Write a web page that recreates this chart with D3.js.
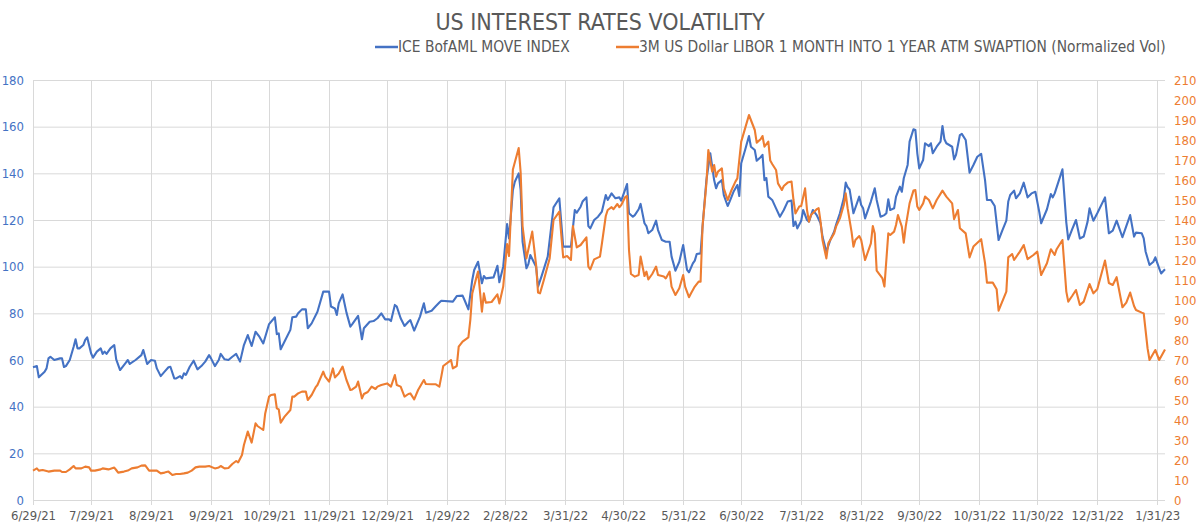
<!DOCTYPE html>
<html>
<head>
<meta charset="utf-8">
<script src="https://cdn.jsdelivr.net/npm/d3@7"></script>
<style>
  body { margin: 0; background: #fff; }
  svg text { font-family: "Liberation Sans Narrow", "DejaVu Sans Condensed", "Roboto", sans-serif; }
</style>
</head>
<body>
<svg id="chart" width="1200" height="528"></svg>
<script>
const title = 'US INTEREST RATES VOLATILITY';
const seriesNames = ['ICE BofAML MOVE INDEX', '3M US Dollar LIBOR 1 MONTH INTO 1 YEAR ATM SWAPTION (Normalized Vol)'];
const colors = ['#4472C4', '#ED7D31'];

const tickDates = ['2021-06-29', '2021-07-29', '2021-08-29', '2021-09-29', '2021-10-29', '2021-11-29',
  '2021-12-29', '2022-01-29', '2022-02-28', '2022-03-31', '2022-04-30', '2022-05-31', '2022-06-30',
  '2022-07-31', '2022-08-31', '2022-09-30', '2022-10-31', '2022-11-30', '2022-12-31', '2023-01-31'];
const leftTicks = [0, 20, 40, 60, 80, 100, 120, 140, 160, 180];
const rightTicks = [0, 10, 20, 30, 40, 50, 60, 70, 80, 90, 100, 110, 120, 130, 140, 150, 160, 170, 180, 190, 200, 210];

// ICE BofAML MOVE index (left axis)
const moveDates = [
  '2021-06-29', '2021-07-01', '2021-07-02', '2021-07-05', '2021-07-06', '2021-07-07', '2021-07-08', '2021-07-10',
  '2021-07-13', '2021-07-14', '2021-07-15', '2021-07-16', '2021-07-18', '2021-07-20', '2021-07-21', '2021-07-22',
  '2021-07-23', '2021-07-25', '2021-07-26', '2021-07-27', '2021-07-29', '2021-07-30',
  '2021-08-01', '2021-08-03', '2021-08-04', '2021-08-05', '2021-08-06', '2021-08-08', '2021-08-10', '2021-08-11',
  '2021-08-13', '2021-08-16', '2021-08-17', '2021-08-18', '2021-08-21', '2021-08-24', '2021-08-25', '2021-08-27',
  '2021-08-29', '2021-08-31',
  '2021-09-01', '2021-09-03', '2021-09-05', '2021-09-07', '2021-09-08', '2021-09-10', '2021-09-11', '2021-09-13',
  '2021-09-14', '2021-09-15', '2021-09-16', '2021-09-18', '2021-09-20', '2021-09-22', '2021-09-24', '2021-09-26',
  '2021-09-28', '2021-09-29',
  '2021-10-01', '2021-10-03', '2021-10-04', '2021-10-06', '2021-10-08', '2021-10-10', '2021-10-12', '2021-10-14',
  '2021-10-16', '2021-10-18', '2021-10-20', '2021-10-22', '2021-10-24', '2021-10-26', '2021-10-29',
  '2021-11-01', '2021-11-02', '2021-11-03', '2021-11-04', '2021-11-06', '2021-11-09', '2021-11-10', '2021-11-12',
  '2021-11-13', '2021-11-15', '2021-11-17', '2021-11-18', '2021-11-20', '2021-11-23', '2021-11-26', '2021-11-29',
  '2021-11-30',
  '2021-12-02', '2021-12-03', '2021-12-04', '2021-12-06', '2021-12-08', '2021-12-10', '2021-12-11', '2021-12-14',
  '2021-12-16', '2021-12-17', '2021-12-20', '2021-12-22', '2021-12-24', '2021-12-26', '2021-12-28', '2021-12-30',
  '2021-12-31',
  '2022-01-02', '2022-01-03', '2022-01-05', '2022-01-07', '2022-01-09', '2022-01-10', '2022-01-12', '2022-01-15',
  '2022-01-17', '2022-01-18', '2022-01-21', '2022-01-23', '2022-01-25', '2022-01-26',
  '2022-02-01', '2022-02-03', '2022-02-06', '2022-02-07', '2022-02-09', '2022-02-11', '2022-02-12', '2022-02-14',
  '2022-02-16', '2022-02-17', '2022-02-18', '2022-02-22', '2022-02-24', '2022-02-25', '2022-02-27',
  '2022-03-01', '2022-03-02', '2022-03-04', '2022-03-05', '2022-03-07', '2022-03-08', '2022-03-09', '2022-03-11',
  '2022-03-12', '2022-03-13', '2022-03-16', '2022-03-17', '2022-03-19', '2022-03-22', '2022-03-25', '2022-03-28',
  '2022-03-30',
  '2022-04-01', '2022-04-03', '2022-04-05', '2022-04-06', '2022-04-08', '2022-04-09', '2022-04-11', '2022-04-12',
  '2022-04-13', '2022-04-15', '2022-04-17', '2022-04-19', '2022-04-21', '2022-04-22', '2022-04-24', '2022-04-26',
  '2022-04-28', '2022-04-29', '2022-04-30',
  '2022-05-02', '2022-05-03', '2022-05-05', '2022-05-06', '2022-05-08', '2022-05-09', '2022-05-11', '2022-05-12',
  '2022-05-13', '2022-05-15', '2022-05-17', '2022-05-18', '2022-05-20', '2022-05-22', '2022-05-24', '2022-05-25',
  '2022-05-27', '2022-05-29', '2022-05-31',
  '2022-06-02', '2022-06-03', '2022-06-05', '2022-06-06', '2022-06-07', '2022-06-09', '2022-06-10', '2022-06-12',
  '2022-06-14', '2022-06-15', '2022-06-16', '2022-06-17', '2022-06-18', '2022-06-20', '2022-06-21', '2022-06-23',
  '2022-06-24', '2022-06-26', '2022-06-28', '2022-06-29', '2022-06-30',
  '2022-07-02', '2022-07-04', '2022-07-05', '2022-07-07', '2022-07-08', '2022-07-10', '2022-07-11', '2022-07-12',
  '2022-07-13', '2022-07-14', '2022-07-16', '2022-07-18', '2022-07-20', '2022-07-22', '2022-07-24', '2022-07-26',
  '2022-07-27', '2022-07-28', '2022-07-29', '2022-07-31',
  '2022-08-01', '2022-08-03', '2022-08-04', '2022-08-06', '2022-08-08', '2022-08-10', '2022-08-11', '2022-08-13',
  '2022-08-15', '2022-08-17', '2022-08-18', '2022-08-20', '2022-08-22', '2022-08-23', '2022-08-24', '2022-08-25',
  '2022-08-27', '2022-08-30', '2022-08-31',
  '2022-09-01', '2022-09-02', '2022-09-05', '2022-09-07', '2022-09-08', '2022-09-10', '2022-09-12', '2022-09-13',
  '2022-09-14', '2022-09-15', '2022-09-17', '2022-09-18', '2022-09-20', '2022-09-21', '2022-09-22', '2022-09-24',
  '2022-09-25', '2022-09-27', '2022-09-28', '2022-09-29', '2022-09-30',
  '2022-10-02', '2022-10-03', '2022-10-05', '2022-10-06', '2022-10-07', '2022-10-09', '2022-10-11', '2022-10-12',
  '2022-10-13', '2022-10-14', '2022-10-17', '2022-10-18', '2022-10-19', '2022-10-21', '2022-10-22', '2022-10-24',
  '2022-10-26', '2022-10-28', '2022-10-30',
  '2022-11-01', '2022-11-03', '2022-11-04', '2022-11-06', '2022-11-08', '2022-11-10', '2022-11-12', '2022-11-14',
  '2022-11-15', '2022-11-16', '2022-11-18', '2022-11-19', '2022-11-21', '2022-11-23', '2022-11-25', '2022-11-27',
  '2022-11-29',
  '2022-12-01', '2022-12-02', '2022-12-05', '2022-12-07', '2022-12-08', '2022-12-09', '2022-12-13', '2022-12-15',
  '2022-12-16', '2022-12-18', '2022-12-20', '2022-12-22', '2022-12-24', '2022-12-26', '2022-12-27', '2022-12-29',
  '2022-12-31',
  '2023-01-04', '2023-01-06', '2023-01-08', '2023-01-10', '2023-01-13', '2023-01-15', '2023-01-17', '2023-01-19',
  '2023-01-20', '2023-01-23', '2023-01-24', '2023-01-25', '2023-01-27', '2023-01-29', '2023-01-30',
  '2023-02-01', '2023-02-02', '2023-02-04'
];
const moveValues = [
  56.9, 57.4, 52.6, 55, 56.4, 60.7, 61.4, 60,
  60.7, 60.7, 57, 57.4, 60, 65.7, 68.9, 65,
  65, 66.4, 68.6, 69.7, 62.9, 61,
  63.6, 65, 62.6, 63.6, 62.6, 65, 66.4, 60.3,
  55.7, 58.9, 60, 58.3, 60, 62.1, 64.3, 58.3,
  60, 59.7,
  56.4, 53.1, 55, 56.9, 57.1, 52.1, 52.1, 53.1,
  52.1, 54.3, 53.6, 57.1, 59.7, 56, 57.4, 59.3,
  62.1, 60.7,
  57.4, 60, 62.6, 60.3, 60, 61.4, 62.6, 59.3,
  66.4, 70.7, 66, 72.1, 70, 67.1, 75.4,
  78.3, 71.1, 71.4, 64.6, 67.9, 72.9, 78.3, 78.6,
  80, 81.7, 81.7, 73.6, 75.7, 80.7, 89.3, 89.3,
  82.9,
  82.1, 79.3, 84.3, 88.1, 80.3, 74.3, 75.4, 78.9,
  68.9, 73.6, 76.4, 76.7, 77.9, 80, 77.4, 77.4,
  76.7,
  83.6, 82.9, 77.9, 74.6, 76.4, 77.1, 72.6, 78.6,
  84.3, 80.3, 81.1, 82.9, 84.6, 85.4,
  85, 87.4, 87.6, 85.7, 81.7, 94.3, 98.6, 102.1,
  92.9, 96, 95, 95.4, 100.4, 93.3, 100,
  118.3, 112.1, 132.9, 136.4, 140, 132.9, 110.7, 99.3,
  101.1, 105, 100, 91.4, 96.4, 104.3, 125.4, 129.3,
  108.6,
  108.6, 108.6, 124.3, 123.1, 125.7, 127.9, 129.7, 117.4,
  116.4, 120, 121.4, 123.6, 130.7, 128.6, 131.4, 129.3,
  129.7, 128.3, 130.7,
  135.4, 122.9, 121.4, 122.1, 124.6, 126.9, 118.6, 117.4,
  114.3, 115.7, 119.7, 115.7, 111.4, 110.7, 110.7, 104.3,
  98.3, 102.1, 109.3,
  98.6, 97.6, 101.4, 102.6, 105.4, 105.7, 117.1, 137.1,
  148.6, 142.9, 137.1, 133.6, 135.7, 137.1, 130.7, 126,
  127.9, 132.1, 135, 130.3, 144.3,
  150, 156, 151.4, 150, 145.4, 146.9, 147.9, 137.1,
  138, 130, 128.6, 125, 121.4, 124.3, 127.9, 128.3,
  117.4, 119.3, 116.4, 119.7,
  124.3, 120, 119.3, 124.3, 122.1, 118.6, 112.9, 106.4,
  111.4, 115, 117.9, 122.9, 129.3, 136, 134, 133.1,
  122.9, 130, 126.4,
  125, 120.7, 127.9, 133.6, 128.6, 121.4, 122.1, 122.9,
  128.9, 124.3, 125, 130, 134.3, 132.1, 137.9, 143.6,
  153.6, 158.9, 158.6, 148.6, 142.1,
  145.7, 152.9, 151.7, 152.9, 148.6, 151.4, 153.6, 160.3,
  154.6, 152.9, 151.4, 146, 147.9, 156.4, 156.9, 154.3,
  140.3, 143.6, 147.1,
  148.3, 137.1, 128.6, 128.6, 126, 111.4, 115.7, 119.7,
  127.9, 130.7, 132.6, 129.3, 131.4, 136, 129.7, 131.4,
  132.1,
  123.6, 118.6, 124.6, 131.1, 129.7, 131.4, 141.7, 118.9,
  111.7, 116, 120, 112.1, 112.9, 119.3, 125, 119.7,
  122.9,
  129.7, 114.3, 115.4, 119.7, 112.6, 117.4, 122.1, 112.9,
  114.6, 114.3, 112.1, 106.4, 100.7, 102.1, 104,
  99.3, 97.1, 98.9
];

// 3M USD LIBOR 1M x 1Y ATM swaption normalized vol (right axis)
const swaptionDates = [
  '2021-06-29', '2021-07-01', '2021-07-02', '2021-07-04', '2021-07-07', '2021-07-10', '2021-07-13', '2021-07-14',
  '2021-07-16', '2021-07-18', '2021-07-20', '2021-07-21', '2021-07-24', '2021-07-26', '2021-07-28', '2021-07-29',
  '2021-07-31',
  '2021-08-03', '2021-08-04', '2021-08-07', '2021-08-10', '2021-08-11', '2021-08-12', '2021-08-15', '2021-08-17',
  '2021-08-19', '2021-08-22', '2021-08-24', '2021-08-26', '2021-08-28', '2021-08-30',
  '2021-09-01', '2021-09-03', '2021-09-05', '2021-09-07', '2021-09-09', '2021-09-11', '2021-09-13', '2021-09-15',
  '2021-09-17', '2021-09-19', '2021-09-21', '2021-09-23', '2021-09-26', '2021-09-28',
  '2021-10-01', '2021-10-03', '2021-10-04', '2021-10-06', '2021-10-08', '2021-10-10', '2021-10-12', '2021-10-13',
  '2021-10-15', '2021-10-16', '2021-10-18', '2021-10-20', '2021-10-22', '2021-10-23', '2021-10-26', '2021-10-27',
  '2021-10-29', '2021-10-30',
  '2021-11-01', '2021-11-02', '2021-11-03', '2021-11-04', '2021-11-06', '2021-11-09', '2021-11-10', '2021-11-11',
  '2021-11-13', '2021-11-15', '2021-11-17', '2021-11-18', '2021-11-20', '2021-11-22', '2021-11-23', '2021-11-26',
  '2021-11-27', '2021-11-29',
  '2021-12-01', '2021-12-02', '2021-12-04', '2021-12-06', '2021-12-08', '2021-12-10', '2021-12-11', '2021-12-13',
  '2021-12-14', '2021-12-16', '2021-12-17', '2021-12-19', '2021-12-21', '2021-12-23', '2021-12-24', '2021-12-26',
  '2021-12-29', '2021-12-31',
  '2022-01-02', '2022-01-03', '2022-01-05', '2022-01-07', '2022-01-09', '2022-01-10', '2022-01-12', '2022-01-14',
  '2022-01-17', '2022-01-18', '2022-01-21', '2022-01-23', '2022-01-25', '2022-01-26', '2022-01-27', '2022-01-30',
  '2022-01-31',
  '2022-02-01', '2022-02-03', '2022-02-04', '2022-02-06', '2022-02-09', '2022-02-10', '2022-02-11', '2022-02-13',
  '2022-02-14', '2022-02-16', '2022-02-17', '2022-02-18', '2022-02-21', '2022-02-24', '2022-02-25', '2022-02-27',
  '2022-03-01', '2022-03-02', '2022-03-04', '2022-03-07', '2022-03-08', '2022-03-09', '2022-03-11', '2022-03-14',
  '2022-03-16', '2022-03-17', '2022-03-18', '2022-03-20', '2022-03-23', '2022-03-25', '2022-03-28', '2022-03-30',
  '2022-04-01', '2022-04-03', '2022-04-04', '2022-04-06', '2022-04-08', '2022-04-11', '2022-04-12', '2022-04-13',
  '2022-04-15', '2022-04-18', '2022-04-19', '2022-04-21', '2022-04-22', '2022-04-24', '2022-04-25', '2022-04-27',
  '2022-04-28', '2022-04-29',
  '2022-05-01', '2022-05-02', '2022-05-03', '2022-05-04', '2022-05-06', '2022-05-08', '2022-05-09', '2022-05-11',
  '2022-05-12', '2022-05-13', '2022-05-15', '2022-05-17', '2022-05-18', '2022-05-21', '2022-05-22', '2022-05-24',
  '2022-05-25', '2022-05-27', '2022-05-29', '2022-05-31',
  '2022-06-01', '2022-06-03', '2022-06-04', '2022-06-06', '2022-06-08', '2022-06-09', '2022-06-10', '2022-06-12',
  '2022-06-13', '2022-06-15', '2022-06-16', '2022-06-17', '2022-06-18', '2022-06-20', '2022-06-21', '2022-06-23',
  '2022-06-25', '2022-06-27', '2022-06-28', '2022-06-30',
  '2022-07-02', '2022-07-04', '2022-07-06', '2022-07-07', '2022-07-08', '2022-07-10', '2022-07-11', '2022-07-12',
  '2022-07-14', '2022-07-15', '2022-07-16', '2022-07-18', '2022-07-19', '2022-07-21', '2022-07-22', '2022-07-24',
  '2022-07-26', '2022-07-27', '2022-07-28', '2022-07-30', '2022-07-31',
  '2022-08-02', '2022-08-03', '2022-08-04', '2022-08-05', '2022-08-08', '2022-08-09', '2022-08-10', '2022-08-11',
  '2022-08-13', '2022-08-14', '2022-08-17', '2022-08-18', '2022-08-20', '2022-08-22', '2022-08-23', '2022-08-24',
  '2022-08-26', '2022-08-27', '2022-08-28', '2022-08-30', '2022-08-31',
  '2022-09-02', '2022-09-05', '2022-09-06', '2022-09-07', '2022-09-08', '2022-09-11', '2022-09-12', '2022-09-14',
  '2022-09-15', '2022-09-17', '2022-09-18', '2022-09-19', '2022-09-21', '2022-09-22', '2022-09-23', '2022-09-25',
  '2022-09-27', '2022-09-28', '2022-09-29', '2022-09-30',
  '2022-10-02', '2022-10-03', '2022-10-05', '2022-10-07', '2022-10-09', '2022-10-12', '2022-10-14', '2022-10-17',
  '2022-10-18', '2022-10-20', '2022-10-21', '2022-10-24', '2022-10-26', '2022-10-28',
  '2022-11-01', '2022-11-03', '2022-11-04', '2022-11-07', '2022-11-09', '2022-11-10', '2022-11-14', '2022-11-15',
  '2022-11-17', '2022-11-18', '2022-11-21', '2022-11-23', '2022-11-25', '2022-11-28', '2022-11-30',
  '2022-12-02', '2022-12-05', '2022-12-07', '2022-12-09', '2022-12-10', '2022-12-13', '2022-12-15', '2022-12-16',
  '2022-12-18', '2022-12-20', '2022-12-22', '2022-12-24', '2022-12-27', '2022-12-29', '2022-12-31',
  '2023-01-04', '2023-01-06', '2023-01-08', '2023-01-10', '2023-01-13', '2023-01-15', '2023-01-17', '2023-01-19',
  '2023-01-20', '2023-01-23', '2023-01-24', '2023-01-26', '2023-01-27', '2023-01-30',
  '2023-02-01', '2023-02-04'
];
const swaptionValues = [
  14.7, 15.8, 14.7, 15, 14.2, 14.7, 14.7, 14,
  14, 15.3, 17, 15.8, 15.8, 16.7, 16.3, 14.7,
  14.7,
  15.3, 15.8, 15.3, 16.2, 15, 13.7, 14.2, 14.7,
  15.8, 16.3, 17.2, 17.3, 14.7, 14.7,
  14.7, 13.3, 13.7, 14.2, 12.5, 13, 13, 13.3,
  13.7, 14.7, 16.3, 16.7, 16.7, 17,
  15.8, 16.3, 17, 15.8, 16, 18, 19.5, 18.8,
  22.5, 27.5, 34.2, 28.7, 38.3, 37, 35, 43.3,
  51.7, 52.5,
  52.8, 45.8, 45.3, 38.7, 41.7, 45, 51.7, 51.7,
  53.3, 54.2, 54.2, 50, 52.5, 56.3, 57.5, 64.2,
  61.7, 59.2,
  65.8, 61.3, 63.3, 66.7, 60, 55, 55.3, 56.7,
  59.2, 50.8, 53, 54, 56.7, 55.5, 56.7, 57.5,
  58.3, 56.7,
  62.5, 57.5, 56.7, 51.7, 53, 53.3, 50.3, 55,
  60, 58, 57.9, 57.9, 56.7, 61.7, 67, 69.2,
  70,
  65.8, 67, 76.7, 79.2, 81.3, 90, 103.3, 110.8,
  114.2, 94.2, 103.3, 98.7, 99, 102.8, 98.3, 106.7,
  128, 122, 165.3, 176, 164, 137, 120.8, 134.2,
  117.5, 103.7, 103.3, 110, 120.8, 140, 144.2, 121.3,
  122, 120, 137, 126.3, 127.5, 131.3, 116.7, 115.3,
  120.3, 121.7, 128.2, 142, 145, 146.4, 145.4, 148,
  146.4, 147.5,
  151.4, 152, 125, 113, 111.7, 112.5, 121.7, 112,
  114.2, 110.3, 113, 116.7, 112.5, 111.7, 110.8, 114.2,
  106.7, 102.5, 105.9, 112.5,
  106.7, 101.4, 103.3, 106.7, 109.2, 109.2, 136.7, 158.3,
  175, 164.2, 167.5, 161.7, 164.2, 165.8, 155.8, 150,
  155, 159.2, 160.8, 179.2,
  185.8, 192.5, 187.5, 185, 178.7, 180.4, 182, 176.7,
  179.2, 169.7, 168, 165, 158.3, 155, 157, 158.7,
  159.2, 150, 143.3, 146.7, 147,
  155.8, 145, 139.2, 142.5, 145.4, 145.9, 139.2, 130,
  120.8, 128.3, 133.3, 136.7, 140.8, 147.5, 153.3, 145.8,
  134.2, 126.7, 130, 132, 130,
  120, 128.3, 137, 133.3, 114.7, 110.8, 106.7, 133.3,
  132.5, 134.2, 137.5, 142.5, 136.7, 128.7, 136.7, 148.3,
  154.7, 155, 146.7, 145,
  148.3, 151.7, 150, 145.8, 150, 154.7, 151.7, 148.3,
  140.4, 145, 135.9, 133.3, 121.3, 126.7,
  130.4, 118.4, 108.7, 108.7, 105.4, 94.7, 104.2, 121.3,
  123, 120, 124.2, 127.5, 120.4, 122.5, 124.2,
  112.5, 118.4, 125.4, 122.5, 125.4, 130, 104.2, 99.2,
  102, 105, 97.5, 99.2, 108, 103.3, 105.4,
  119.7, 108.5, 107.5, 111.4, 96.4, 98.7, 103.7, 97,
  95, 93.7, 93.3, 75.8, 70, 75,
  70, 75.3
];

const parseDate = d3.timeParse('%Y-%m-%d');
const fmtTick = d3.timeFormat('%-m/%-d/%y');

const moveData = moveDates.map((d, i) => ({ date: parseDate(d), value: moveValues[i] }));
const swaptionData = swaptionDates.map((d, i) => ({ date: parseDate(d), value: swaptionValues[i] }));
const ticks = tickDates.map(parseDate);

const plot = { left: 33, right: 1165, top: 80, bottom: 500 };
const gridColor = '#d9d9d9';
const textColor = '#595959';

const svg = d3.select('#chart');

const x = d3.scaleTime()
  .domain([parseDate('2021-06-29'), parseDate('2023-02-04')])
  .range([plot.left, plot.right]);
const yLeft = d3.scaleLinear().domain([0, 180]).range([plot.bottom, plot.top]);
const yRight = d3.scaleLinear().domain([0, 210]).range([plot.bottom, plot.top]);

// grid
svg.append('g')
  .selectAll('line')
  .data(leftTicks)
  .join('line')
  .attr('x1', plot.left)
  .attr('x2', plot.right)
  .attr('y1', d => yLeft(d) + 0.5)
  .attr('y2', d => yLeft(d) + 0.5)
  .attr('stroke', gridColor)
  .attr('stroke-width', 1);

svg.append('g')
  .selectAll('line')
  .data(ticks)
  .join('line')
  .attr('x1', d => Math.round(x(d)) + 0.5)
  .attr('x2', d => Math.round(x(d)) + 0.5)
  .attr('y1', plot.top)
  .attr('y2', plot.bottom + 5)
  .attr('stroke', gridColor)
  .attr('stroke-width', 1);

// axes
const xAxis = svg.append('g')
  .attr('transform', `translate(0,${plot.bottom})`)
  .call(d3.axisBottom(x).tickValues(ticks).tickFormat(fmtTick).tickSize(0).tickPadding(11));
xAxis.select('.domain').remove();
xAxis.selectAll('text').attr('fill', textColor).style('font-size', '13px');

const leftAxis = svg.append('g')
  .attr('transform', `translate(${plot.left},0)`)
  .call(d3.axisLeft(yLeft).tickValues(leftTicks).tickSize(0).tickPadding(9));
leftAxis.select('.domain').remove();
leftAxis.selectAll('text').attr('fill', colors[0]).style('font-size', '13px');

const rightAxis = svg.append('g')
  .attr('transform', `translate(${plot.right},0)`)
  .call(d3.axisRight(yRight).tickValues(rightTicks).tickSize(0).tickPadding(9));
rightAxis.select('.domain').remove();
rightAxis.selectAll('text').attr('fill', colors[1]).style('font-size', '13px');

// lines
const lineLeft = d3.line().x(d => x(d.date)).y(d => yLeft(d.value));
const lineRight = d3.line().x(d => x(d.date)).y(d => yRight(d.value));

svg.append('path')
  .datum(moveData)
  .attr('d', lineLeft)
  .attr('fill', 'none')
  .attr('stroke', colors[0])
  .attr('stroke-width', 2.1)
  .attr('stroke-linejoin', 'round');

svg.append('path')
  .datum(swaptionData)
  .attr('d', lineRight)
  .attr('fill', 'none')
  .attr('stroke', colors[1])
  .attr('stroke-width', 2.1)
  .attr('stroke-linejoin', 'round');

// title
svg.append('text')
  .attr('x', 600)
  .attr('y', 30)
  .attr('text-anchor', 'middle')
  .attr('fill', textColor)
  .style('font-size', '23px')
  .text(title);

// legend
const legendItems = [
  { name: seriesNames[0], color: colors[0], x: 375 },
  { name: seriesNames[1], color: colors[1], x: 616 }
];
const legend = svg.append('g');
legendItems.forEach(item => {
  legend.append('line')
    .attr('x1', item.x).attr('x2', item.x + 23)
    .attr('y1', 47).attr('y2', 47)
    .attr('stroke', item.color)
    .attr('stroke-width', 2.5);
  legend.append('text')
    .attr('x', item.x + 23)
    .attr('y', 52)
    .attr('fill', textColor)
    .style('font-size', '15.4px')
    .text(item.name);
});
</script>
</body>
</html>
